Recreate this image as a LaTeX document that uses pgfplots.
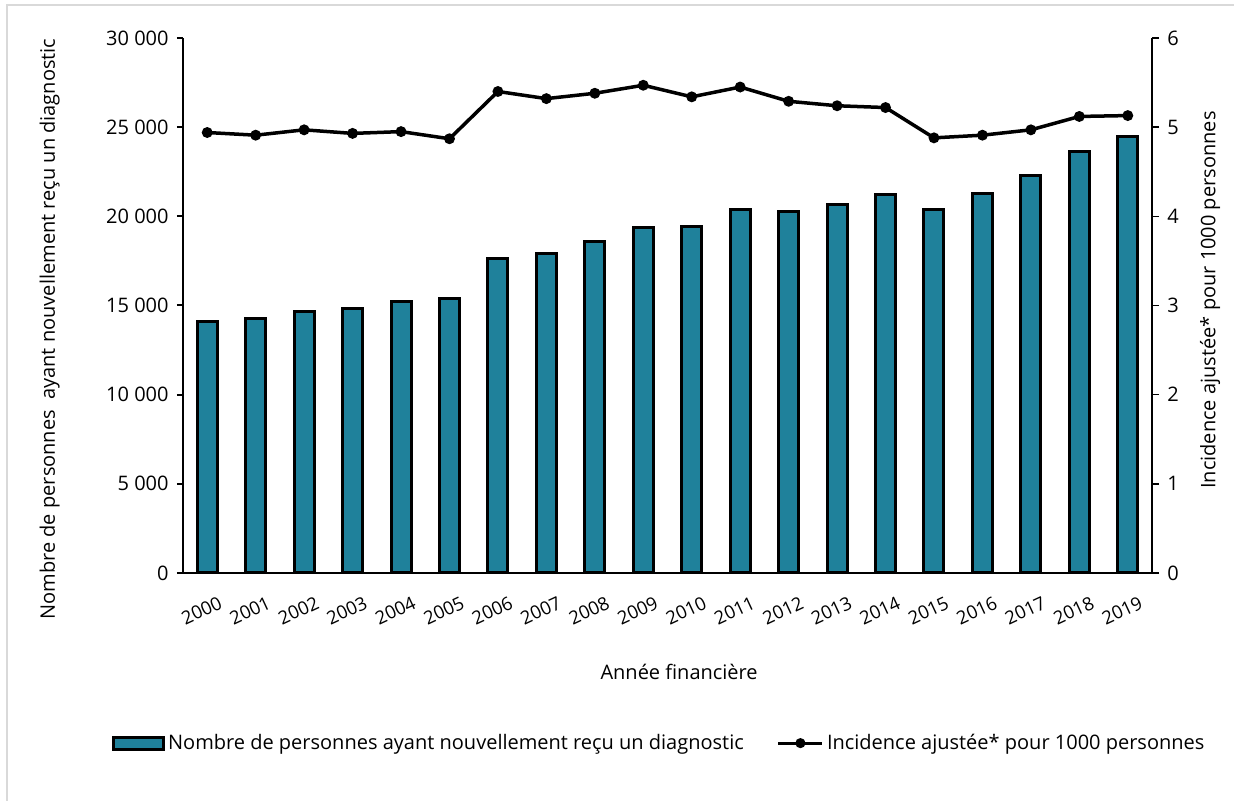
\documentclass[border=0pt]{standalone}
\usepackage{fontspec}
\setmainfont{Open Sans}
\usepackage{pgfplots}
\pgfplotsset{compat=1.18}
\definecolor{barcol}{HTML}{1F819B}
\definecolor{framecol}{HTML}{D9D9D9}
\newcommand\f{\fontsize{10}{12}\selectfont}
\newcommand\fx{\fontsize{9.2}{11}\selectfont}
\begin{document}
\begin{tikzpicture}
\useasboundingbox (-91.5pt,-114pt) rectangle (525.5pt,286.5pt);
\draw[framecol, line width=1pt] (-88pt,-114pt) -- (-88pt,284pt) -- (525.5pt,284pt);
\begin{axis}[
  at={(0pt,0pt)}, anchor=south west, scale only axis,
  width=484.5pt, height=267.5pt,
  xmin=-0.5, xmax=19.5, ymin=0, ymax=30000,
  scaled y ticks=false,
  axis y line*=left, axis x line*=bottom,
  axis line style={line width=1pt, -},
  ybar, bar width=10pt,
  xtick=data,
  xticklabels={2000,2001,2002,2003,2004,2005,2006,2007,2008,2009,2010,2011,2012,2013,2014,2015,2016,2017,2018,2019},
  xtick style={draw=none},
  xticklabel style={rotate=25, anchor=north east, inner sep=0pt, yshift=-9.5pt, xshift=1.5pt, font=\fx},
  ytick={0,5000,10000,15000,20000,25000,30000},
  yticklabels={0,5 000,10 000,15 000,20 000,25 000,30 000},
  yticklabel style={font=\f, inner sep=0pt, xshift=-4pt},
  ytick style={black, line width=1pt},
  tick align=outside, major tick length=3pt,
  xlabel={Année financière},
  every axis x label/.style={at={(rel axis cs:0.512,-0.185)}, anchor=center, font=\f},
  ylabel={Nombre de personnes\ \ ayant nouvellement reçu un diagnostic},
  every axis y label/.style={at={(rel axis cs:-0.1375,0.456)}, rotate=90, anchor=center, font=\f},
]
\addplot[fill=barcol, draw=black, line width=1.5pt] coordinates {
(0,14130) (1,14260) (2,14690) (3,14850) (4,15250) (5,15380) (6,17630) (7,17890) (8,18600) (9,19400)
(10,19440) (11,20360) (12,20270) (13,20660) (14,21200) (15,20380) (16,21280) (17,22270) (18,23650) (19,24470)
};
\end{axis}
\begin{axis}[
  at={(0pt,0pt)}, anchor=south west, scale only axis,
  width=484.5pt, height=267.5pt,
  xmin=-0.5, xmax=19.5, ymin=0, ymax=6,
  axis y line*=right, axis x line=none,
  axis line style={line width=0.8pt, -},
  ytick={0,1,2,3,4,5,6},
  yticklabel style={font=\f, inner sep=0pt, xshift=4pt},
  /pgf/number format/assume math mode=true,
  ytick style={black, line width=0.8pt},
  tick align=outside, major tick length=3.5pt,
  ylabel={Incidence ajustée* pour 1000 personnes},
  every axis y label/.style={at={(rel axis cs:1.06,0.51)}, rotate=90, anchor=center, font=\f},
  clip=false,
  legend columns=2,
  legend style={draw=none, fill=none, at={(rel axis cs:0.492,-0.318)}, anchor=center, font=\f,
    /tikz/every even column/.append style={column sep=15pt},
    nodes={inner sep=1.5pt}},
]
\addlegendimage{legend image code/.code={\draw[fill=barcol, draw=black, line width=1.5pt] (0pt,-3pt) rectangle (25pt,3pt);}}
\addlegendentry{Nombre de personnes ayant nouvellement reçu un diagnostic}
\addplot[black, line width=1.75pt, mark=*, mark size=1.8pt,
  legend image code/.code={\draw[black, line width=1.6pt] (0pt,0pt) -- (22pt,0pt); \fill[black] (11pt,0pt) circle (1.6pt);}]
  coordinates {
(0,4.94) (1,4.91) (2,4.97) (3,4.93) (4,4.95) (5,4.87) (6,5.40) (7,5.32) (8,5.38) (9,5.47)
(10,5.34) (11,5.45) (12,5.29) (13,5.24) (14,5.22) (15,4.88) (16,4.91) (17,4.97) (18,5.12) (19,5.13)
};
\addlegendentry{Incidence ajustée* pour 1000 personnes}
\end{axis}
\end{tikzpicture}
\end{document}
